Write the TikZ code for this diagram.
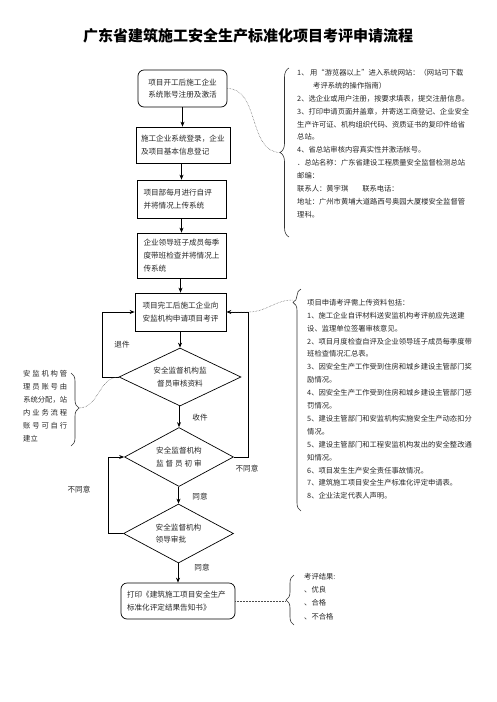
\documentclass[tikz,border=0pt]{standalone}
\usepackage{fontspec}
\setmainfont{Noto Sans CJK SC}
\usetikzlibrary{shapes.geometric,arrows.meta,decorations.pathreplacing}
\newcommand\jl[1]{\makebox[44pt]{#1}}
\begin{document}
\begin{tikzpicture}[x=1pt,y=-1pt,
  every node/.style={text=black!85},
  box/.style={draw=black,line width=0.7pt,inner sep=0pt,font=\fontsize{7.6}{12.8}\selectfont},
  dia/.style={draw=black,line width=0.7pt,diamond,shape aspect=2,inner sep=0pt,font=\fontsize{7.6}{12.8}\selectfont,align=center},
  lbl/.style={font=\fontsize{7.6}{9}\selectfont,inner sep=0pt},
  txt/.style={font=\fontsize{7.3}{12.9}\selectfont,inner sep=0pt,align=left,anchor=north west},
  arr/.style={draw=black,line width=0.8pt,-{Stealth[length=5pt,width=4pt]}},
  ln/.style={draw=black,line width=0.8pt},
  dotline/.style={draw=black!70,line width=0.5pt,densely dotted},
  brc/.style={draw=black!80,line width=0.6pt,decorate}
]
\useasboundingbox (0,0) rectangle (496,702);

% title
\node[font=\fontsize{15}{18}\selectfont\bfseries,text=black,inner sep=0pt] (title) at (248,36) {广东省建筑施工安全生产标准化项目考评申请流程};

% main boxes
\node[box,rounded corners=6pt,minimum width=89pt,minimum height=37pt,text width=74pt,align=center] (b1) at (182.5,88.5) {项目开工后施工企业\\系统账号注册及激活};
\node[box,minimum width=94pt,minimum height=36pt,text width=84pt,align=left] (b2) at (183,145) {施工企业系统登录，企业\\及项目基本信息登记};
\node[box,minimum width=89pt,minimum height=38pt,text width=76pt,align=left] (b3) at (181.5,199) {项目部每月进行自评\\并将情况上传系统};
\node[box,minimum width=89pt,minimum height=45pt,text width=76pt,align=left] (b4) at (181.5,255.5) {企业领导班子成员每季\\度带班检查并将情况上\\传系统};
\node[box,minimum width=91pt,minimum height=38pt,text width=76pt,align=left] (b5) at (180.5,312) {项目完工后施工企业向\\安监机构申请项目考评};

\node[dia,minimum width=122pt,minimum height=58pt] (d1) at (180,377) {安全监督机构监\\督员审核资料};
\node[dia,minimum width=109pt,minimum height=59pt] (d2) at (179,457) {安全监督机构\\\makebox[45.6pt]{监\hfill 督\hfill 员\hfill 初\hfill 审}};
\node[dia,minimum width=110pt,minimum height=59pt,align=left] (d3) at (178.5,533.5) {安全监督机构\\领导审批};

\node[box,rounded corners=6pt,minimum width=114pt,minimum height=36pt,text width=102pt,align=left] (fb) at (178,601) {打印《建筑施工项目安全生产\\标准化评定结果告知书》};

% vertical arrows
\draw[arr] (b1.south) -- (b1.south |- b2.north);
\draw[arr] (b2.south -| b3.north) -- (b3.north);
\draw[arr] (b3.south) -- (b4.north);
\draw[arr] (b4.south -| b5.north) -- (b5.north);
\draw[arr] (b5.south -| d1.north) -- (d1.north);
\draw[arr] (d1.south -| d2.north) -- (d2.north);
\draw[arr] (d2.south -| d3.north) -- (d3.north);
\draw[arr] (d3.south -| fb.north) -- (fb.north);

% loops
\coordinate (l1) at (102,377);
\coordinate (l1t) at (102,312);
\draw[arr] (d1.west) -- (l1) -- (l1t) -- (b5.west);
\coordinate (r1) at (248.5,457);
\coordinate (r1t) at (248.5,312);
\draw[arr] (d2.east) -- (r1) -- (r1t) -- (b5.east);
\coordinate (l2) at (108,533.5);
\coordinate (l2t) at (108,457);
\draw[arr] (d3.west) -- (l2) -- (l2t) -- (d2.west);

% labels
\node[lbl] (lab1) at (122,345) {退件};
\node[lbl] (lab2) at (200,418) {收件};
\node[lbl] (lab3) at (247,469) {不同意};
\node[lbl] (lab4) at (200,497) {同意};
\node[lbl] (lab5) at (79,490) {不同意};
\node[lbl] (lab6) at (202,568) {同意};

% right text block 1
\node[txt] (t1) at (297,69) {1、 用“游览器以上”进入系统网站：（网站可下载\\
\hspace*{16pt}考评系统的操作指南）\\
2、选企业或用户注册，按要求填表，提交注册信息。\\
3、打印申请页面并盖章，并寄送工商登记、企业安全\\
生产许可证、机构组织代码、资质证书的复印件给省\\
总站。\\
4、省总站审核内容真实性并激活帐号。\\
．总站名称：广东省建设工程质量安全监督检测总站\\
邮编：\\
联系人：黄宇琪\hspace*{14pt}联系电话：\\
地址：广州市黄埔大道路西号奥园大厦楼安全监督管\\
理科。};
\draw[brc,decoration={brace,amplitude=9pt,aspect=0.5}] (289,237) -- (289,68);
\coordinate (tip1) at (280.5,152.5);
\draw[dotline] (b1.east) to[out=0,in=180] (tip1);

% right text block 2
\node[txt] (t2) at (307,299) {项目申请考评需上传资料包括：\\
1、施工企业自评材料送安监机构考评前应先送建\\
设、监理单位签署审核意见。\\
2、项目月度检查自评及企业领导班子成员每季度带\\
班检查情况汇总表。\\
3、因安全生产工作受到住房和城乡建设主管部门奖\\
励情况。\\
4、因安全生产工作受到住房和城乡建设主管部门惩\\
罚情况。\\
5、建设主管部门和安监机构实施安全生产动态扣分\\
情况。\\
5、建设主管部门和工程安监机构发出的安全整改通\\
知情况。\\
6、项目发生生产安全责任事故情况。\\
7、建筑施工项目安全生产标准化评定申请表。\\
8、企业法定代表人声明。};
\draw[brc,decoration={brace,amplitude=8pt,aspect=0.94}] (301,511) -- (301,289);
\coordinate (tip2) at (293,300);
\draw[dotline] (b5.east) -- (r1t) to[out=0,in=180] (tip2);

% left text
\node[txt,font=\fontsize{7.3}{13}\selectfont] (t3) at (23,370) {\jl{安\hfill 监\hfill 机\hfill 构\hfill 管}\\
\jl{理\hfill 员\hfill 账\hfill 号\hfill 由}\\
\jl{系统分配，站}\\
\jl{内\hfill 业\hfill 务\hfill 流\hfill 程}\\
\jl{账\hfill 号\hfill 可\hfill 自\hfill 行}\\
建立};
\draw[brc,decoration={brace,amplitude=8pt,aspect=0.48}] (71,373) -- (71,446);
\coordinate (tip3) at (79,408);
\draw[dotline] (tip3) to[out=0,in=180] (d1.west);

% result
\node[txt,font=\fontsize{7.3}{13.3}\selectfont] (t4) at (304,573) {考评结果:\\
、优良\\
、合格\\
、不合格};
\draw[brc,decoration={brace,amplitude=8pt,aspect=0.5}] (294,625) -- (294,575);
\coordinate (tip4) at (286,601);
\draw[dotline] (fb.east) -- (tip4);
\end{tikzpicture}
\end{document}
